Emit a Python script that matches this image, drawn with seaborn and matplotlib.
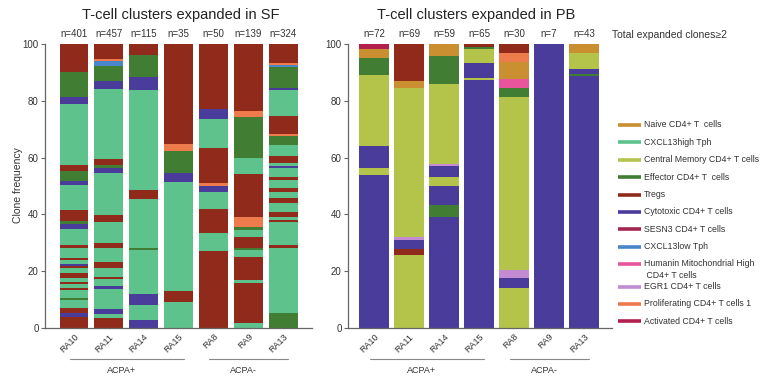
import numpy as np
import pandas as pd
import matplotlib
matplotlib.use("Agg")
import matplotlib.pyplot as plt
import matplotlib.transforms as mtransforms
from matplotlib.lines import Line2D
import seaborn as sns

# ---------------------------------------------------------------- data
samples = ["RA10", "RA11", "RA14", "RA15", "RA8", "RA9", "RA13"]
sf_counts = [401, 457, 115, 35, 50, 139, 324]
pb_counts = [72, 69, 59, 65, 30, 7, 43]

cluster_codes = ["NV", "TPH", "CM", "EF", "TR", "CY", "SE", "TL", "HU", "EG", "PR", "AC"]
cluster_names = [
    "Naive CD4+ T  cells",
    "CXCL13high Tph",
    "Central Memory CD4+ T cells",
    "Effector CD4+ T  cells",
    "Tregs",
    "Cytotoxic CD4+ T cells",
    "SESN3 CD4+ T cells",
    "CXCL13low Tph",
    "Humanin Mitochondrial High\n CD4+ T cells",
    "EGR1 CD4+ T cells",
    "Proliferating CD4+ T cells 1",
    "Activated CD4+ T cells",
]
cluster_colors = [
    "#C98F30", "#5EC28C", "#B4C34A", "#417D33", "#902B1B", "#4A3C9A",
    "#A52650", "#4A86C8", "#E8559D", "#C38BD2", "#EE7B4B", "#B2204D",
]

# clone-frequency blocks per patient, listed bottom -> top as (cluster, %)
sf_RA10 = [("TR", 3.9), ("CY", 1.4), ("TR", 1.8), ("TPH", 2.8), ("EF", 0.7), ("TPH", 2.8),
           ("TR", 0.7), ("TPH", 1.4), ("TR", 0.7), ("TPH", 1.4), ("TR", 1.8), ("TPH", 1.8),
           ("TR", 0.7), ("CY", 0.7), ("TPH", 1.4), ("TR", 0.7), ("TPH", 3.5), ("TR", 1.1),
           ("TPH", 5.6), ("CY", 1.8), ("EF", 1.1), ("TR", 3.9), ("TPH", 8.8), ("CY", 1.4),
           ("EF", 3.5), ("TR", 2.1), ("TPH", 21.5), ("CY", 2.5), ("EF", 8.8), ("TR", 9.9)]
sf_RA11 = [("TR", 3.5), ("TPH", 1.4), ("CY", 1.8), ("TPH", 7.0), ("CY", 1.1), ("TPH", 2.5),
           ("TR", 0.7), ("TPH", 3.2), ("TR", 2.1), ("TPH", 4.9), ("TR", 1.8), ("TPH", 7.4),
           ("TR", 2.5), ("TPH", 14.8), ("CY", 1.8), ("EF", 1.1), ("TR", 2.1), ("TPH", 24.7),
           ("CY", 2.9), ("EF", 5.3), ("TL", 1.8), ("PR", 0.7), ("TR", 5.3)]
sf_RA14 = [("CY", 2.8), ("TPH", 5.3), ("CY", 3.9), ("TPH", 15.5), ("EF", 0.7), ("TPH", 17.2),
           ("TR", 3.2), ("TPH", 35.2), ("CY", 4.6), ("EF", 7.9), ("TR", 3.9)]
sf_RA15 = [("TPH", 9.2), ("TR", 3.9), ("TPH", 38.4), ("CY", 3.2), ("EF", 7.7), ("PR", 2.5),
           ("TR", 35.2)]
sf_RA8 = [("TR", 27.1), ("TPH", 6.3), ("TR", 8.5), ("TPH", 6.0), ("CY", 2.1), ("PR", 1.1),
          ("TR", 12.3), ("TPH", 10.2), ("CY", 3.5), ("TR", 22.9)]
sf_RA9 = [("TPH", 1.8), ("TR", 14.1), ("TPH", 1.1), ("TR", 8.1), ("TPH", 2.5), ("EF", 0.7),
          ("TR", 3.9), ("TPH", 2.5), ("EF", 1.1), ("PR", 3.2), ("TR", 15.5), ("TPH", 5.6),
          ("EF", 14.4), ("PR", 2.1), ("TR", 23.6)]
sf_RA13 = [("EF", 5.3), ("TPH", 22.9), ("TR", 1.1), ("TPH", 8.1), ("TR", 0.7), ("TPH", 1.1),
           ("TR", 1.8), ("TPH", 3.2), ("TR", 1.8), ("TPH", 2.1), ("TR", 1.4), ("TPH", 2.8),
           ("TR", 1.1), ("TPH", 3.2), ("CY", 0.7), ("TPH", 1.1), ("TR", 2.5), ("TPH", 3.9),
           ("EF", 3.2), ("PR", 0.7), ("TR", 6.3), ("TPH", 9.2), ("CY", 0.7), ("EF", 7.4),
           ("TL", 0.7), ("PR", 0.7), ("TR", 6.7)]

pb_RA10 = [("CY", 53.9), ("CM", 2.5), ("CY", 7.7), ("CM", 25.0), ("EF", 6.0), ("NV", 3.2),
           ("AC", 1.8)]
pb_RA11 = [("CM", 25.7), ("TR", 2.1), ("CY", 3.2), ("EG", 1.1), ("CM", 52.5), ("NV", 2.5),
           ("TR", 13.0)]
pb_RA14 = [("CY", 39.1), ("EF", 4.2), ("CY", 6.7), ("CM", 3.2), ("CY", 3.9), ("EG", 0.7),
           ("CM", 28.2), ("EF", 9.9), ("NV", 4.2)]
pb_RA15 = [("CY", 87.7), ("CM", 0.7), ("CY", 5.3), ("CM", 4.9), ("EF", 0.7), ("TR", 1.1)]
pb_RA8 = [("CM", 14.1), ("CY", 3.5), ("EG", 2.8), ("CM", 60.9), ("EF", 3.2), ("HU", 3.2),
          ("NV", 6.0), ("PR", 3.2), ("TR", 3.2)]
pb_RA9 = [("CY", 100.0)]
pb_RA13 = [("CY", 88.7), ("EF", 0.7), ("CY", 1.8), ("CM", 5.6), ("NV", 3.2)]

sf_blocks = [sf_RA10, sf_RA11, sf_RA14, sf_RA15, sf_RA8, sf_RA9, sf_RA13]
pb_blocks = [pb_RA10, pb_RA11, pb_RA14, pb_RA15, pb_RA8, pb_RA9, pb_RA13]

groups = ["ACPA+", "ACPA-"]
group_members = [["RA10", "RA11", "RA14", "RA15"], ["RA8", "RA9", "RA13"]]

# ---------------------------------------------------------------- table
color_of = dict(zip(cluster_codes, cluster_colors))
rows = []
for panel, blocks in (("SF", sf_blocks), ("PB", pb_blocks)):
    for sample, blist in zip(samples, blocks):
        vals = np.array([v for _, v in blist], dtype=float)
        tops = np.cumsum(vals) / vals.sum() * 100.0
        for k, ((code, _), top) in enumerate(zip(blist, tops)):
            rows.append(dict(panel=panel, sample=sample, seg=f"{panel}-{sample}-{k}",
                             cluster=code, color=color_of[code], top=top))
df = pd.DataFrame(rows)

# ---------------------------------------------------------------- style
sns.set_theme(style="ticks")
plt.rcParams["font.family"] = ["Liberation Sans", "DejaVu Sans"]
plt.rcParams["text.color"] = "#333333"

W, H = 765, 376
fig = plt.figure(figsize=(W / 100, H / 100), dpi=100)
ax_sf = fig.add_axes([45 / W, 48 / H, 267 / W, 284 / H])
ax_pb = fig.add_axes([348 / W, 48 / H, 264 / W, 284 / H])


def draw_panel(ax, panel, counts, xlim, title, title_x):
    d = df[df["panel"] == panel].sort_values("top", ascending=False)
    # tallest cumulative block first, shorter ones painted over it -> stacked bars
    sns.barplot(data=d, x="sample", y="top", hue="seg", hue_order=list(d["seg"]),
                palette=dict(zip(d["seg"], d["color"])), order=samples, dodge=False,
                width=0.83, saturation=1, errorbar=None, legend=False,
                linewidth=0, edgecolor="none", ax=ax)
    ax.set_xlim(*xlim)
    ax.set_ylim(0, 100)
    ax.set_xlabel("")
    ax.set_ylabel("")
    ax.set_yticks([0, 20, 40, 60, 80, 100])
    ax.set_yticklabels(["0", "20", "40", "60", "80", "100"])
    sns.despine(ax=ax)
    for s in ("left", "bottom"):
        ax.spines[s].set_color("#666666")
        ax.spines[s].set_linewidth(0.9)
    ax.tick_params(axis="y", length=3, width=0.8, color="#666666", labelsize=7,
                   labelcolor="#333333", pad=1.5)
    ax.tick_params(axis="x", length=0, labelsize=6.5, labelcolor="#333333", pad=3)
    for lab in ax.get_xticklabels():
        lab.set_rotation(45)
        lab.set_ha("right")
        lab.set_rotation_mode("anchor")

    for i, n in enumerate(counts):
        ax.text(i, 103.4, f"n={n}", ha="center", va="center", fontsize=7,
                color="#333333", clip_on=False)

    trans = mtransforms.blended_transform_factory(ax.transData, ax.transAxes)
    for name, members in zip(groups, group_members):
        idx = [samples.index(m) for m in members]
        x0, x1 = min(idx) - 0.12, max(idx) + 0.15
        ax.add_line(Line2D([x0, x1], [-0.109, -0.109], transform=trans, color="#888888",
                           lw=0.8, clip_on=False))
        ax.text((x0 + x1) / 2 - 0.15, -0.148, name, transform=trans, ha="center",
                va="center", fontsize=6.5, color="#333333", clip_on=False)

    fig.text(title_x / W, 1 - 15 / H, title, ha="center", va="center", fontsize=10.5,
             color="#222222")


draw_panel(ax_sf, "SF", sf_counts, (-0.833, 6.83), "T-cell clusters expanded in SF", 181)
draw_panel(ax_pb, "PB", pb_counts, (-0.743, 6.80), "T-cell clusters expanded in PB", 476)

fig.text(18 / W, 1 - 185 / H, "Clone frequency", rotation=90, ha="center", va="center",
         fontsize=7.5, color="#333333")
fig.text(612 / W, 1 - 35 / H, "Total expanded clones\u22652", ha="left", va="center",
         fontsize=7.5, color="#333333")

# cluster key: colour bar followed by its name (second line of a two-line name below)
legend_y = [125, 142.5, 160, 177, 194.5, 212, 229, 246.5, 264, 286.5, 304, 321]
for name, color, yy in zip(cluster_names, cluster_colors, legend_y):
    fy = 1 - yy / H
    fig.add_artist(Line2D([618 / W, 641 / W], [fy, fy], transform=fig.transFigure,
                          color=color, lw=2.6, solid_capstyle="butt"))
    for j, line in enumerate(name.split("\n")):
        fig.text(644 / W, 1 - (yy + 11 * j) / H, line, ha="left", va="center",
                 fontsize=6.3, color="#333333")

fig.savefig("out.png", dpi=100)
